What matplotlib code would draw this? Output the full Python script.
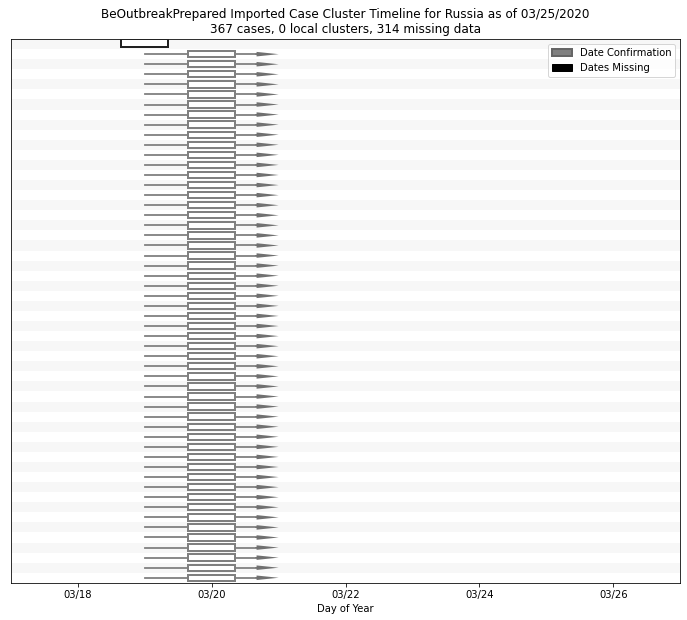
import datetime as dt
import matplotlib
matplotlib.use("Agg")
import matplotlib.pyplot as plt
import matplotlib.dates as mdates
from matplotlib.patches import Rectangle, Patch

# One row per case: exposure start, confirmation, end of arrow
n_cases = 53
start_dates = [dt.datetime(2020, 3, 19)] * n_cases
confirm_dates = [dt.datetime(2020, 3, 20)] * n_cases
end_dates = [dt.datetime(2020, 3, 21)] * n_cases
missing_dates = [dt.datetime(2020, 3, 19)]

title = ("BeOutbreakPrepared Imported Case Cluster Timeline for Russia as of 03/25/2020\n"
         "367 cases, 0 local clusters, 314 missing data")

DPI = 72
fig = plt.figure(figsize=(687 / DPI, 620 / DPI), dpi=DPI)
ax = fig.add_axes([0.016, 0.06, 0.974, 0.877])

n_rows = n_cases + len(missing_dates)
box_w = 0.7
box_h = 0.63

# alternating stripes
for r in range(n_rows):
    if r % 2 == 0:
        ax.axhspan(r - 0.5, r + 0.5, color="#f7f7f7", zorder=0, lw=0)

row = 0
for d in missing_dates:
    x = mdates.date2num(d)
    ax.add_patch(Rectangle((x - box_w / 2, row - 0.55), box_w, 0.85,
                           facecolor="white", edgecolor="#222222", lw=2, zorder=3))
    row += 1

for s, c, e in zip(start_dates, confirm_dates, end_dates):
    xs, xc, xe = (mdates.date2num(v) for v in (s, c, e))
    ax.plot([xs, xe - 0.3], [row, row], color="#808080", lw=1.8, zorder=1)
    ax.arrow(xe - 0.35, row, 0.35, 0, width=0.1, head_width=0.45,
             head_length=0.33, length_includes_head=True,
             color="#707070", lw=0, zorder=2)
    ax.add_patch(Rectangle((xc - box_w / 2, row - box_h / 2), box_w, box_h,
                           facecolor="white", edgecolor="#808080", lw=2, zorder=3))
    row += 1

ax.set_ylim(n_rows - 0.5, -0.5)
ax.set_xlim(mdates.date2num(dt.datetime(2020, 3, 17)),
            mdates.date2num(dt.datetime(2020, 3, 27)))
ax.xaxis.set_major_locator(mdates.DayLocator(bymonthday=[18, 20, 22, 24, 26]))
ax.xaxis.set_major_formatter(mdates.DateFormatter("%m/%d"))
ax.set_yticks([])
ax.set_xlabel("Day of Year")
ax.set_title(title, fontsize=12)

handles = [Patch(facecolor="#808080", edgecolor="#666666", lw=2, label="Date Confirmation"),
           Patch(facecolor="black", edgecolor="black", label="Dates Missing")]
ax.legend(handles=handles, loc="upper right", fontsize=10)

fig.savefig("out.png", dpi=DPI)
